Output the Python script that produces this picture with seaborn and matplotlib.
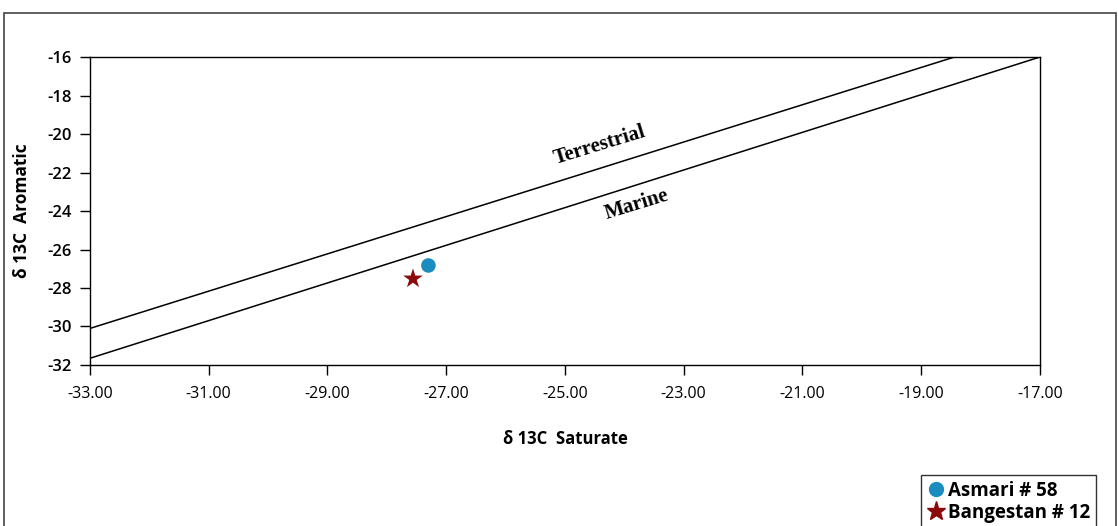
import numpy as np
import pandas as pd
import matplotlib
matplotlib.use("Agg")
import matplotlib.pyplot as plt
import seaborn as sns
from matplotlib.patches import Rectangle

# --- data ---
TERR_X = [-33.0, -18.44]
TERR_Y = [-30.1, -16.0]
MAR_X = [-33.0, -17.0]
MAR_Y = [-31.65, -16.0]

SAMPLES = ["Asmari # 58", "Bangestan # 12"]
SAT = [-27.3, -27.56]
ARO = [-26.83, -27.52]
MARKERS = ["o", "*"]
COLORS = ["#1a8cc0", "#8b0a0a"]

XTICKS = [-33, -31, -29, -27, -25, -23, -21, -19, -17]
YTICKS = [-32, -30, -28, -26, -24, -22, -20, -18, -16]

sns.set_theme(style="white")
plt.rcParams["font.family"] = ["Open Sans", "DejaVu Sans"]
plt.rcParams["text.color"] = "black"
plt.rcParams["axes.labelcolor"] = "black"
plt.rcParams["xtick.color"] = "black"
plt.rcParams["ytick.color"] = "black"

fig = plt.figure(figsize=(11.18, 5.26), dpi=100)
ax = fig.add_axes([0.0805, 0.3061, 0.8497, 0.5855])

lines = pd.DataFrame({
    "sat": TERR_X + MAR_X,
    "aro": TERR_Y + MAR_Y,
    "line": ["Terrestrial"] * 2 + ["Marine"] * 2,
})
sns.lineplot(data=lines, x="sat", y="aro", units="line", estimator=None,
             color="black", linewidth=1.1, ax=ax, legend=False)

pts = pd.DataFrame({"sat": SAT, "aro": ARO, "sample": SAMPLES})
handles = []
for i, name in enumerate(SAMPLES):
    sub = pts[pts["sample"] == name]
    sns.scatterplot(data=sub, x="sat", y="aro", marker=MARKERS[i],
                    color=COLORS[i], s=110 if MARKERS[i] == "o" else 220,
                    edgecolor="none", ax=ax, legend=False)
    handles.append(plt.Line2D([], [], marker=MARKERS[i], linestyle="none",
                              color=COLORS[i],
                              markersize=10 if MARKERS[i] == "o" else 14,
                              label=name))

ax.set_xlim(-33, -17)
ax.set_ylim(-32, -16)
ax.set_xticks(XTICKS)
ax.set_yticks(YTICKS)
ax.set_xticklabels([f"{t:.2f}" for t in XTICKS], fontsize=11.5)
ax.set_yticklabels([str(t) for t in YTICKS], fontsize=12, fontweight="semibold")
ax.tick_params(axis="both", direction="out", length=7, width=1,
               bottom=True, left=True)
ax.tick_params(axis="x", pad=8)
ax.tick_params(axis="y", pad=6)
for sp in ax.spines.values():
    sp.set_color("black")
    sp.set_linewidth(1)

ax.set_xlabel("δ 13C  Saturate", fontsize=12, fontweight="bold", labelpad=20)
ax.set_ylabel("δ 13C  Aromatic", fontsize=12.5, fontweight="bold", labelpad=12)

ax.text(-24.41, -20.57, "Terrestrial", rotation=17, ha="center", va="center",
        fontsize=15, fontweight="bold", family="Liberation Serif", color="black")
ax.text(-23.79, -23.69, "Marine", rotation=17, ha="center", va="center",
        fontsize=15, fontweight="bold", family="Liberation Serif", color="black")

# outer frame of the figure
fig.patches.append(Rectangle((4 / 1118, -0.02), 1112 / 1118, 1 - 13 / 526 + 0.02,
                             transform=fig.transFigure, fill=False,
                             edgecolor="#444444", linewidth=1.2))

leg = fig.legend(handles=handles, loc="upper left",
                 bbox_to_anchor=(912 / 1118, 1 - 466 / 526),
                 frameon=True, fancybox=False, handletextpad=0.1,
                 borderpad=0.3, labelspacing=0.1, handlelength=1.0,
                 prop={"weight": "bold", "size": 13.5})
leg.get_frame().set_edgecolor("black")
leg.get_frame().set_linewidth(1)

fig.savefig("out.png", dpi=100)
